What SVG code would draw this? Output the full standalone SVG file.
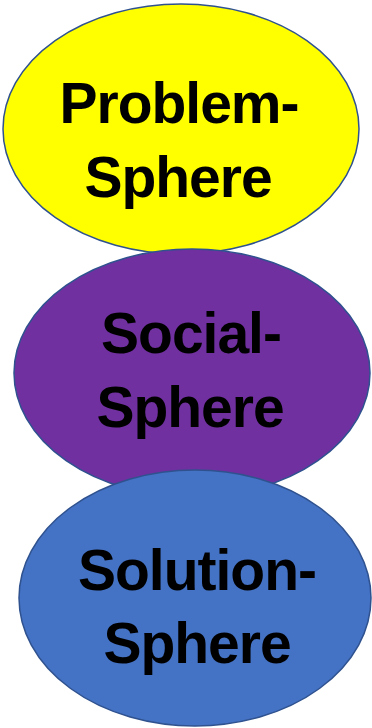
<svg xmlns="http://www.w3.org/2000/svg" width="372" height="728" viewBox="0 0 372 728">
<style>
.sh{stroke:#2F528F;stroke-width:1.5}
.t{font-family:"Liberation Sans",Arial,sans-serif;font-weight:bold;font-size:57px;letter-spacing:-1px;fill:#000;text-anchor:middle}
</style>
<rect width="372" height="728" fill="#fff"/>
<g id="problem">
<ellipse class="sh" cx="181" cy="129" rx="178" ry="125" fill="#FFFF00"/>
<text class="t" x="179" y="123">Problem-</text>
<text class="t" x="178" y="197">Sphere</text>
</g>
<g id="social">
<ellipse class="sh" cx="192" cy="373" rx="178" ry="124" fill="#7030A0"/>
<text class="t" x="191" y="353">Social-</text>
<text class="t" x="190" y="427">Sphere</text>
</g>
<g id="solution">
<ellipse class="sh" cx="195" cy="598" rx="176" ry="128" fill="#4472C4"/>
<text class="t" x="197" y="590">Solution-</text>
<text class="t" x="197" y="663">Sphere</text>
</g>
<g id="connectors"/>
</svg>
